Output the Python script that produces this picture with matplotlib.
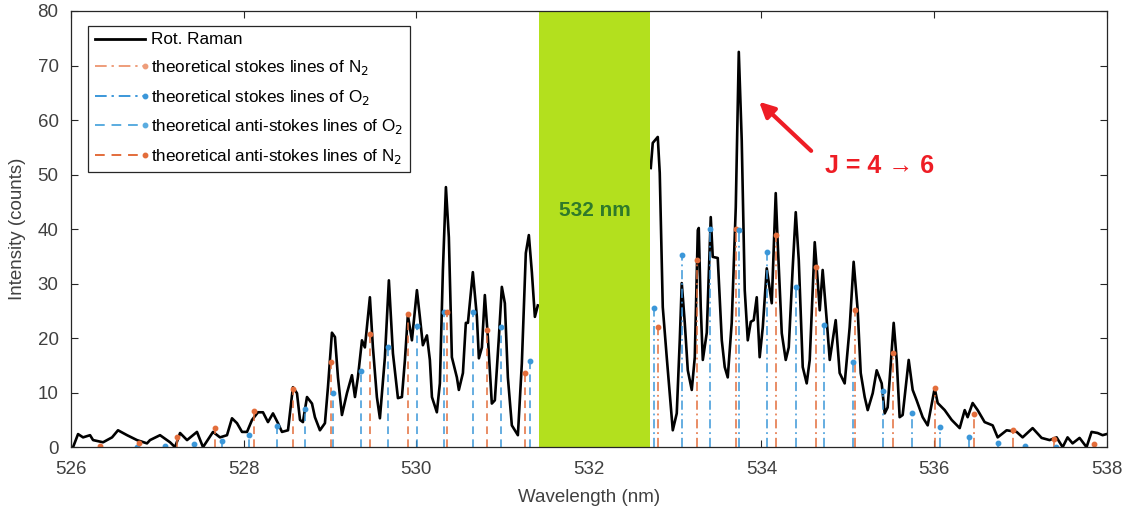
import numpy as np
import matplotlib
matplotlib.use("Agg")
import matplotlib.pyplot as plt
from matplotlib.lines import Line2D
from matplotlib.legend_handler import HandlerBase

plt.rcParams['font.family'] = ['Liberation Sans', 'DejaVu Sans']

# ---------------- data ----------------
spec_left_wl = [526.00, 526.023, 526.081, 526.139, 526.220, 526.255, 526.371, 526.475, 526.544, 526.649,
                526.764, 526.880, 526.915, 527.031, 527.147, 527.205, 527.263, 527.344, 527.459, 527.529,
                527.645, 527.726, 527.807, 527.865, 527.923, 527.981, 528.039, 528.097, 528.166, 528.224,
                528.282, 528.340, 528.398, 528.444, 528.514, 528.571, 528.618, 528.653, 528.687, 528.734,
                528.792, 528.826, 528.884, 528.942, 528.977, 529.023, 529.058, 529.093, 529.139, 529.197,
                529.255, 529.290, 529.324, 529.371, 529.405, 529.463, 529.498, 529.544, 529.579, 529.637,
                529.683, 529.730, 529.788, 529.834, 529.869, 529.903, 529.950, 530.008, 530.042, 530.077,
                530.124, 530.158, 530.182, 530.239, 530.274, 530.309, 530.344, 530.378, 530.413, 530.471,
                530.494, 530.541, 530.575, 530.599, 530.656, 530.703, 530.726, 530.761, 530.795, 530.830,
                530.876, 530.911, 530.958, 530.992, 531.027, 531.062, 531.108, 531.178, 531.224, 531.270,
                531.305, 531.340, 531.375, 531.409]
spec_left_int = [0.0, 0.0, 2.4, 1.8, 2.2, 1.3, 0.9, 1.8, 3.1, 2.2,
                 1.3, 0.7, 1.3, 2.2, 0.9, 0.0, 2.6, 1.3, 2.8, 0.0,
                 2.8, 1.8, 2.2, 5.3, 4.4, 2.8, 2.8, 5.0, 6.4, 6.4,
                 4.6, 6.2, 4.4, 2.8, 3.1, 11.0, 9.9, 5.0, 4.6, 9.2,
                 8.0, 5.5, 3.1, 4.4, 11.0, 21.0, 20.2, 12.8, 5.9, 9.9,
                 13.2, 9.2, 12.8, 19.6, 18.3, 27.5, 18.3, 9.2, 5.3, 16.5,
                 30.6, 17.2, 9.0, 9.2, 16.0, 24.2, 19.6, 28.8, 23.9, 18.7,
                 20.5, 16.0, 9.2, 6.4, 11.7, 32.5, 47.7, 38.5, 16.5, 12.8,
                 10.5, 13.6, 22.8, 22.8, 32.1, 23.9, 16.3, 18.3, 27.9, 20.2,
                 8.0, 8.6, 20.2, 29.4, 26.4, 12.8, 4.0, 2.2, 15.4, 35.6,
                 38.9, 32.1, 23.9, 26.0]

spec_right_wl = [532.718, 532.741, 532.799, 532.822, 532.857, 532.903, 532.973, 533.019, 533.054, 533.077,
                 533.112, 533.147, 533.193, 533.228, 533.263, 533.274, 533.297, 533.321, 533.367, 533.413,
                 533.436, 533.494, 533.541, 533.575, 533.610, 533.656, 533.703, 533.738, 533.772, 533.807,
                 533.842, 533.877, 533.911, 533.946, 533.980, 534.016, 534.062, 534.120, 534.166, 534.189,
                 534.236, 534.282, 534.317, 534.363, 534.398, 534.433, 534.479, 534.525, 534.560, 534.618,
                 534.652, 534.676, 534.710, 534.757, 534.792, 534.861, 534.907, 534.965, 535.023, 535.069,
                 535.116, 535.151, 535.197, 535.232, 535.290, 535.336, 535.394, 535.429, 535.463, 535.533,
                 535.568, 535.602, 535.637, 535.707, 535.753, 535.799, 535.869, 535.927, 536.008, 536.043,
                 536.124, 536.205, 536.298, 536.356, 536.390, 536.448, 536.506, 536.587, 536.680, 536.738,
                 536.842, 536.958, 537.027, 537.143, 537.247, 537.340, 537.421, 537.491, 537.548, 537.606,
                 537.687, 537.768, 537.826, 537.896, 537.954, 538.000]
spec_right_int = [51.2, 55.8, 56.9, 50.3, 25.7, 16.5, 3.1, 6.2, 19.6, 30.1,
                  22.8, 14.1, 10.5, 16.5, 39.8, 40.2, 25.7, 16.0, 21.0, 42.2,
                  34.9, 34.7, 19.6, 14.7, 12.8, 22.8, 44.0, 72.5, 56.3, 28.8,
                  19.6, 23.0, 23.3, 27.5, 16.5, 22.0, 32.8, 26.4, 46.6, 37.4,
                  20.9, 16.0, 18.3, 33.0, 43.1, 34.3, 14.7, 11.7, 16.0, 37.6,
                  30.6, 25.1, 32.5, 23.3, 16.0, 23.3, 13.6, 11.7, 22.0, 34.0,
                  25.1, 13.6, 9.2, 6.8, 9.9, 14.1, 11.7, 6.2, 7.3, 22.8,
                  16.0, 5.5, 5.9, 16.0, 10.5, 8.6, 5.5, 4.0, 10.8, 8.1,
                  6.8, 5.0, 3.5, 6.8, 5.5, 8.1, 6.8, 4.6, 4.0, 1.8,
                  3.1, 2.8, 1.8, 3.5, 1.7, 1.3, 1.8, 0.0, 1.8, 0.7,
                  1.7, 0.0, 2.8, 2.6, 2.2, 2.4]

stokes_n2_wl = [532.80, 533.25, 533.71, 534.17, 534.63, 535.08, 535.53, 536.01, 536.46, 536.92, 537.39, 537.85]
stokes_n2_int = [22.0, 34.3, 40.0, 38.9, 33.0, 25.1, 17.2, 10.8, 6.0, 3.1, 1.5, 0.5]

stokes_o2_wl = [532.75, 533.08, 533.41, 533.74, 534.06, 534.40, 534.73, 535.06, 535.41, 535.74,
                536.07, 536.40, 536.74, 537.06, 537.41]
stokes_o2_int = [25.5, 35.2, 40.0, 39.8, 35.8, 29.4, 22.4, 15.6, 10.3, 6.2, 3.7, 1.8, 0.7, 0.2, 0.0]

anti_o2_wl = [526.76, 527.09, 527.42, 527.75, 528.06, 528.39, 528.71, 529.03, 529.36, 529.67,
              530.01, 530.32, 530.66, 530.98, 531.32]
anti_o2_int = [0.0, 0.2, 0.5, 1.1, 2.2, 3.9, 7.0, 9.9, 14.0, 18.3, 22.2, 24.8, 24.8, 22.0, 15.8]

anti_n2_wl = [526.34, 526.79, 527.23, 527.67, 528.12, 528.57, 529.01, 529.46, 529.90, 530.36, 530.82, 531.26]
anti_n2_int = [0.2, 0.7, 1.8, 3.6, 6.6, 10.6, 15.6, 20.7, 24.4, 24.8, 21.5, 13.6]

laser_band = [531.42, 532.71]
x_ticks = [526, 528, 530, 532, 534, 536, 538]
y_ticks = [0, 10, 20, 30, 40, 50, 60, 70, 80]

labels = ['Rot. Raman',
          'theoretical stokes lines of N$_2$',
          'theoretical stokes lines of O$_2$',
          'theoretical anti-stokes lines of O$_2$',
          'theoretical anti-stokes lines of N$_2$']

# ---------------- styles ----------------
ORANGE = '#E36D3B'
BLUE = '#3B97D9'
BLUE_L = '#5AACE0'
GREEN_BAND = '#B3E01E'
AX_COL = '#262626'
TXT_COL = '#404040'

fig = plt.figure(figsize=(11.28, 5.14), dpi=100)
ax = fig.add_axes([0.063, 0.130, 0.918, 0.8486])

dash_dot = (0, (6, 2.5, 1.2, 2.5))
dashed = (0, (5, 3.5))


def stems(wl, inten, color, ls):
    ax.vlines(wl, 0, inten, colors=color, linestyles=ls, linewidth=1.1, zorder=4)
    ax.plot(wl, inten, ls='none', marker='o', ms=3.2, color=color, zorder=5)


ax.plot(spec_left_wl, spec_left_int, color='black', lw=1.9, zorder=3, solid_joinstyle='round')
ax.plot(spec_right_wl, spec_right_int, color='black', lw=1.9, zorder=3, solid_joinstyle='round')

stems(stokes_n2_wl, stokes_n2_int, ORANGE, dash_dot)
stems(stokes_o2_wl, stokes_o2_int, BLUE, dash_dot)
stems(anti_o2_wl, anti_o2_int, BLUE, dashed)
stems(anti_n2_wl, anti_n2_int, ORANGE, dashed)

ax.axvspan(laser_band[0], laser_band[1], color=GREEN_BAND, zorder=6, lw=0)
ax.text(sum(laser_band) / 2, 43.5, '532 nm', color='#2F7A2A', fontsize=15, fontweight='bold',
        ha='center', va='center', zorder=7)

ax.annotate('', xy=(533.95, 63.7), xytext=(534.60, 54.0),
            arrowprops=dict(arrowstyle='-|>,head_length=0.9,head_width=0.45', color='#EE1D25', lw=3),
            zorder=8)
ax.text(535.37, 51.6, 'J = 4 \u2192 6', color='#EE1D25', fontsize=18, fontweight='bold',
        ha='center', va='center', family=['Liberation Sans', 'DejaVu Sans'])

ax.set_xlim(526, 538)
ax.set_ylim(0, 80)
ax.set_xticks(x_ticks)
ax.set_yticks(y_ticks)
ax.tick_params(direction='in', top=True, right=True, length=5, width=0.8,
               colors=AX_COL, labelsize=13.5, labelcolor=TXT_COL)
ax.tick_params(axis='x', pad=10)
ax.tick_params(axis='y', pad=9)
for s in ax.spines.values():
    s.set_color(AX_COL)
    s.set_linewidth(0.9)
    s.set_zorder(9)
ax.set_xlabel('Wavelength (nm)', fontsize=13.5, color=TXT_COL, labelpad=8)
ax.set_ylabel('Intensity (counts)', fontsize=13.5, color=TXT_COL, labelpad=8)


class EndDotHandler(HandlerBase):
    def __init__(self, color, ls, lw, dot=True):
        super().__init__()
        self.color, self.ls, self.lw, self.dot = color, ls, lw, dot

    def create_artists(self, legend, orig_handle, xdescent, ydescent, width, height, fontsize, trans):
        y = (height - ydescent) / 2.0
        x0, x1 = -xdescent, -xdescent + width
        line = Line2D([x0, x1], [y, y], color=self.color, ls=self.ls, lw=self.lw)
        line.set_transform(trans)
        arts = [line]
        if self.dot:
            d = Line2D([x1], [y], marker='o', ms=3.2, color=self.color, ls='none')
            d.set_transform(trans)
            arts.append(d)
        return arts


handles = [Line2D([], [], color='k'), Line2D([], [], color='r'), Line2D([], [], color='g'),
           Line2D([], [], color='b'), Line2D([], [], color='m')]
hmap = {
    handles[0]: EndDotHandler('black', '-', 2.0, dot=False),
    handles[1]: EndDotHandler('#EE9D7A', dash_dot, 1.4),
    handles[2]: EndDotHandler(BLUE, dash_dot, 1.4),
    handles[3]: EndDotHandler(BLUE_L, dashed, 1.4),
    handles[4]: EndDotHandler(ORANGE, dashed, 1.4),
}
leg = ax.legend(handles, labels, handler_map=hmap, loc='upper left',
                bbox_to_anchor=(0.0164, 0.9656), borderaxespad=0, fontsize=12.3,
                handlelength=2.95, handletextpad=0.35, labelspacing=0.62,
                borderpad=0.38, fancybox=False, framealpha=1, edgecolor=AX_COL)
leg.get_frame().set_linewidth(0.9)
leg.set_zorder(10)

fig.savefig('out.png', dpi=100)
